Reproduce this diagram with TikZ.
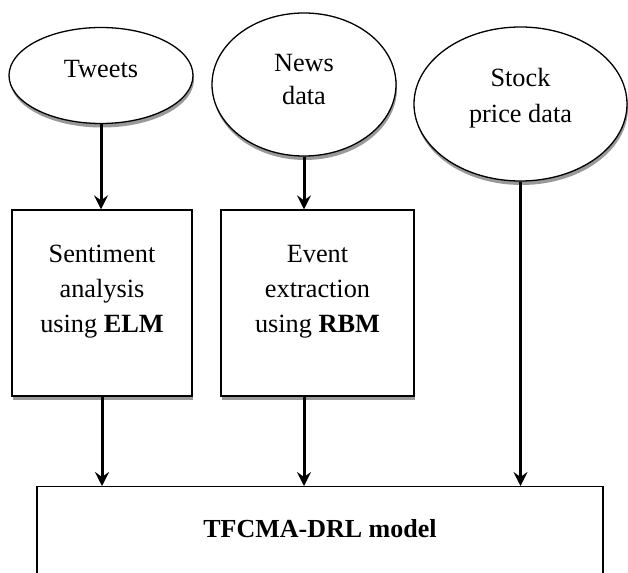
\documentclass[tikz,border=0pt]{standalone}
\usepackage{fontspec}
\setmainfont{Liberation Serif}
\usetikzlibrary{shapes.geometric,arrows.meta,shadows}
\begin{document}
\begin{tikzpicture}[x=1pt,y=1pt,
  sh/.style={drop shadow={shadow xshift=1pt,shadow yshift=-4pt,fill=black!40,opacity=1}},
  oval/.style={ellipse,draw,line width=1.3pt,fill=white,sh,inner sep=0pt},
  procbox/.style={rectangle,draw,line width=1.3pt,fill=white,sh,inner sep=0pt},
  txt/.style={inner sep=0pt,align=center,font=\fontsize{26.3}{35}\selectfont},
  arr/.style={line width=3pt,-{Stealth[length=14pt,width=14pt,inset=5pt]}}]
\useasboundingbox (0,0) rectangle (628,-572);
\clip (0,0) rectangle (628,-572);
% input ovals
\node[oval,minimum width=184pt,minimum height=96pt] (tw) at (101,-75.5) {};
\node[oval,minimum width=184pt,minimum height=143pt] (nw) at (304,-84.5) {};
\node[oval,minimum width=213pt,minimum height=154pt] (st) at (520.5,-104) {};
\node[txt] (twt) at (101,-69.3) {Tweets};
\node[txt,font=\fontsize{26.3}{33}\selectfont] (nwt) at (304,-79.8) {News\\data};
\node[txt,font=\fontsize{26.3}{36}\selectfont] (stt) at (520.5,-97.8) {Stock\\price data};
% processing boxes
\node[procbox,minimum width=180pt,minimum height=186pt] (b1) at (102,-303) {};
\node[procbox,minimum width=193pt,minimum height=186pt] (b2) at (317.5,-303) {};
\node[txt] (b1t) at (102,-292.1) {Sentiment\\analysis\\using \textbf{ELM}};
\node[txt] (b2t) at (317.5,-292.1) {Event\\extraction\\using \textbf{RBM}};
% model box (runs off the bottom of the picture)
\node[rectangle,draw,line width=1.3pt,minimum width=566pt,minimum height=120pt,anchor=north] (m) at (320,-486) {};
\node[txt,font=\fontsize{26}{30}\selectfont\bfseries] (mt) at (320,-529) {TFCMA-DRL model};
% connectors
\draw[arr] (tw.south) -- (tw.south |- b1.north);
\draw[arr] (nw.south) -- (nw.south |- b2.north);
\draw[arr] (st.south) -- (st.south |- m.north);
\draw[arr] (b1.south) -- (b1.south |- m.north);
\draw[arr] (nw.south |- b2.south) -- (nw.south |- m.north);
\end{tikzpicture}
\end{document}
